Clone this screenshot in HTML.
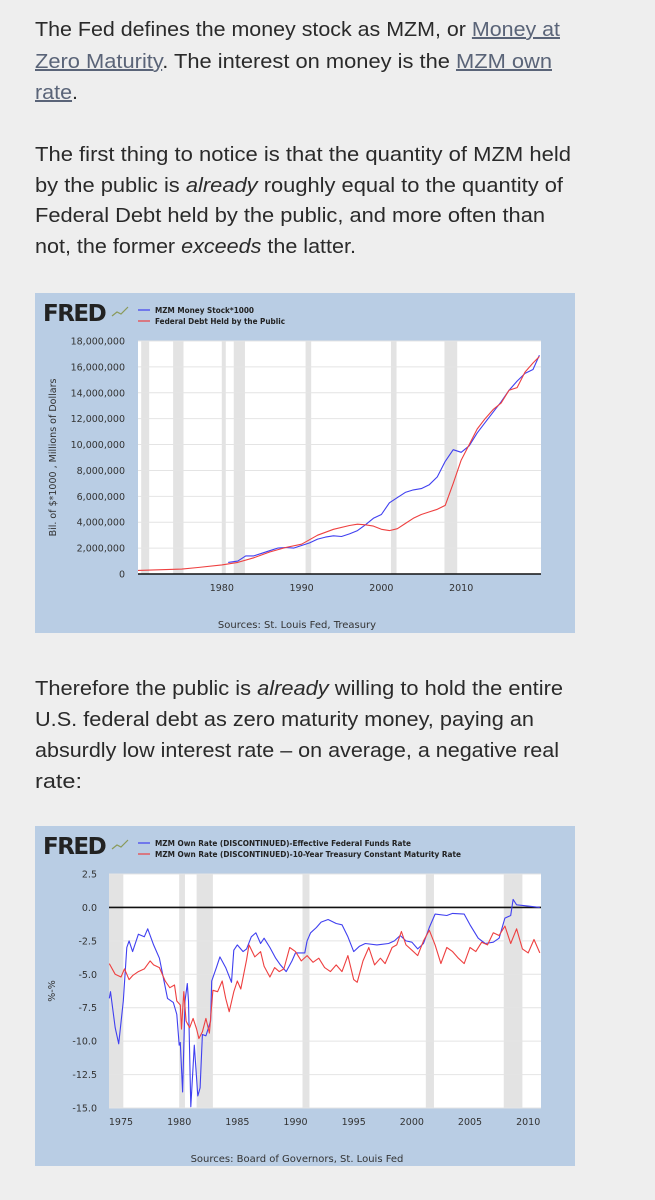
<!DOCTYPE html>
<html><head><meta charset="utf-8">
<style>
body{margin:0;width:655px;height:1200px;background:#eeeeee;overflow:hidden;position:relative;font-family:"Liberation Sans",sans-serif;}
.ln{position:absolute;left:35px;white-space:nowrap;font-size:20px;line-height:24px;color:#2a2a2a;transform-origin:0 50%;}
.ln a{color:#5a6478;text-decoration:underline;}
.panel{position:absolute;left:35px;width:540px;height:340px;background:#b9cde4;}
svg text{font-family:"DejaVu Sans","Liberation Sans",sans-serif;}
</style></head><body>
<div>
<div class="ln" data-w="525" style="top:18px">The Fed defines the money stock as MZM, or <a>Money at</a></div>
<div class="ln" data-w="517" style="top:50px"><a>Zero Maturity</a>. The interest on money is the <a>MZM own</a></div>
<div class="ln" data-w="43" style="top:81px"><a>rate</a>.</div>
</div>
<div>
<div class="ln" data-w="536" style="top:143px">The first thing to notice is that the quantity of MZM held</div>
<div class="ln" data-w="528" style="top:174px">by the public is <i>already</i> roughly equal to the quantity of</div>
<div class="ln" data-w="510" style="top:204px">Federal Debt held by the public, and more often than</div>
<div class="ln" data-w="321" style="top:235px">not, the former <i>exceeds</i> the latter.</div>
</div>
<div>
<div class="ln" data-w="528" style="top:677px">Therefore the public is <i>already</i> willing to hold the entire</div>
<div class="ln" data-w="499" style="top:708px">U.S. federal debt as zero maturity money, paying an</div>
<div class="ln" data-w="524" style="top:739px">absurdly low interest rate – on average, a negative real</div>
<div class="ln" data-w="47" style="top:770px">rate:</div>
</div>

<div class="panel" style="top:293px"><svg id="c1" width="540" height="340"></svg></div>
<div class="panel" style="top:826px"><svg id="c2" width="540" height="340"></svg></div>

<script>
// ---- Chart 1 data ----
const c1MzmYears=[1980.8,1982,1983,1984,1985,1986,1987,1988,1989,1990,1991,1992,1993,1994,1995,1996,1997,1998,1999,2000,2001,2002,2003,2004,2005,2006,2007,2008,2009,2010,2011,2012,2013,2014,2015,2016,2017,2018,2019,2019.8];
const c1MzmValues=[0.9,1.0,1.4,1.4,1.6,1.8,2.0,2.05,2.0,2.2,2.4,2.7,2.85,2.95,2.9,3.1,3.35,3.8,4.3,4.6,5.5,5.9,6.3,6.5,6.6,6.9,7.5,8.7,9.6,9.4,9.9,10.9,11.7,12.5,13.3,14.2,14.9,15.5,15.8,16.9];
const c1DebtYears=[1969.5,1975,1977,1980,1982,1984,1986,1988,1990,1992,1994,1996,1997,1998,1999,2000,2001,2002,2003,2004,2005,2006,2007,2008,2009,2010,2011,2012,2013,2014,2015,2016,2017,2018,2019,2019.8];
const c1DebtValues=[0.28,0.38,0.5,0.7,0.9,1.25,1.7,2.05,2.3,3.0,3.45,3.75,3.85,3.8,3.7,3.45,3.35,3.5,3.9,4.3,4.6,4.8,5.0,5.3,7.0,8.8,10.0,11.2,12.0,12.7,13.2,14.2,14.4,15.6,16.3,16.8];
const c1YTicks=[0,2,4,6,8,10,12,14,16,18];
const c1YLabels=["0","2,000,000","4,000,000","6,000,000","8,000,000","10,000,000","12,000,000","14,000,000","16,000,000","18,000,000"];
const c1XTicks=[1980,1990,2000,2010];
const c1Recessions=[[1969.9,1970.9],[1973.9,1975.2],[1980,1980.5],[1981.5,1982.9],[1990.5,1991.2],[2001.2,2001.9],[2007.9,2009.5]];
// ---- Chart 2 data ----
const c2BlueYears=[1974.0,1974.1,1974.5,1974.8,1975.2,1975.5,1975.7,1976,1976.5,1977,1977.3,1977.8,1978.3,1978.7,1979,1979.5,1979.8,1980,1980.1,1980.3,1980.5,1980.7,1980.8,1981.0,1981.3,1981.6,1981.8,1982.0,1982.3,1982.7,1982.8,1983.2,1983.5,1984,1984.5,1984.7,1985,1985.5,1985.8,1986.2,1986.6,1987,1987.3,1987.8,1988.3,1988.7,1989.2,1989.7,1990,1990.5,1990.8,1991,1991.3,1991.8,1992.2,1992.8,1993.5,1994,1994.5,1995,1995.5,1996,1997,1998,1998.5,1999,1999.5,2000,2000.5,2001,2001.5,2002,2003,2003.5,2004.5,2005,2005.7,2006.3,2007,2007.5,2008,2008.5,2008.7,2009,2010,2011];
const c2BlueValues=[-6.8,-6.3,-9,-10.2,-7,-3,-2.5,-3.3,-2,-2.2,-1.6,-2.8,-3.8,-5.5,-6.8,-7.1,-8,-10.3,-10.1,-13.8,-7,-5.7,-7,-14.9,-10.3,-14.1,-13.5,-9.5,-9.6,-8.5,-5.5,-4.5,-3.7,-4.5,-5.6,-3.2,-2.8,-3.3,-3.1,-2.2,-1.9,-2.7,-2.3,-3.0,-3.8,-4.3,-4.8,-4,-3.4,-3.4,-3.4,-2.5,-1.9,-1.5,-1.1,-0.9,-1.2,-1.3,-2.2,-3.3,-2.9,-2.7,-2.8,-2.7,-2.5,-2.1,-2.5,-2.6,-3.1,-2.7,-1.5,-0.5,-0.6,-0.45,-0.5,-1.3,-2.3,-2.7,-2.6,-2.3,-0.8,-0.6,0.6,0.2,0.1,0.0];
const c2RedYears=[1974,1974.5,1975,1975.3,1975.7,1976,1976.5,1977,1977.5,1977.8,1978.3,1978.8,1979.2,1979.6,1979.8,1980.1,1980.2,1980.4,1980.6,1980.9,1981.2,1981.5,1981.7,1982,1982.3,1982.6,1982.9,1983.3,1983.7,1984,1984.3,1984.7,1985,1985.3,1985.8,1986,1986.5,1987,1987.3,1987.8,1988.2,1988.6,1989,1989.5,1990,1990.5,1991,1991.5,1992,1992.5,1993,1993.5,1994,1994.5,1995,1995.3,1995.8,1996.3,1996.8,1997.3,1997.7,1998.3,1998.7,1999.1,1999.5,2000,2000.5,2001,2001.5,2002,2002.5,2003,2003.5,2004,2004.5,2005,2005.5,2006,2006.5,2007,2007.5,2008,2008.5,2009,2009.5,2010,2010.5,2011];
const c2RedValues=[-4.2,-5,-5.2,-4.6,-5.4,-5.1,-4.8,-4.6,-4.0,-4.3,-4.5,-5.5,-6.0,-5.8,-7.0,-7.3,-9.1,-6.3,-8.5,-9.0,-8.3,-9.1,-9.8,-9.3,-8.3,-9.4,-6.2,-6.3,-5.5,-6.8,-7.8,-6.3,-5.5,-6.1,-3.9,-2.8,-3.7,-3.3,-4.4,-5.2,-4.5,-4.8,-4.6,-3.0,-3.3,-4.0,-3.6,-4.1,-3.8,-4.5,-4.8,-4.3,-4.8,-3.6,-5.4,-5.6,-4.0,-3.0,-4.3,-3.8,-4.2,-3.0,-2.8,-1.8,-2.8,-3.2,-3.6,-2.5,-1.7,-2.8,-4.2,-3.0,-3.3,-3.8,-4.2,-3.0,-3.3,-2.6,-2.8,-1.9,-2.1,-1.4,-2.7,-1.6,-3.1,-3.4,-2.4,-3.4];
const c2YTicks=[2.5,0,-2.5,-5,-7.5,-10,-12.5,-15];
const c2YLabels=["2.5","0.0","-2.5","-5.0","-7.5","-10.0","-12.5","-15.0"];
const c2XTicks=[1975,1980,1985,1990,1995,2000,2005,2010];
const c2Recessions=[[1973.9,1975.2],[1980,1980.5],[1981.5,1982.9],[1990.6,1991.2],[2001.2,2001.9],[2007.9,2009.5]];

const NS="http://www.w3.org/2000/svg";
function mk(svg,tag,attrs,txt){const e=document.createElementNS(NS,tag);for(const k in attrs)e.setAttribute(k,attrs[k]);if(txt!==undefined)e.textContent=txt;svg.appendChild(e);return e;}

function drawChart(svg,o){
  const L=o.left,R=506,T=48,B=o.bottom;
  const xs=v=>L+(v-o.x0)/(o.x1-o.x0)*(R-L);
  const ys=v=>B-(v-o.y0)/(o.y1-o.y0)*(B-T);
  const logo=mk(svg,'text',{x:8,y:28,'font-size':23,'font-weight':'bold',fill:'#222','letter-spacing':'-1.5'},'FRED');
  
  
  mk(svg,'polyline',{points:'77,23 82,19 86,21 93,14',fill:'none',stroke:'#8a9a5a','stroke-width':1.2});
  o.legend.forEach((t,i)=>{
    const g=mk(svg,'g',{});
    
    
    mk(g,'line',{x1:103,x2:115,y1:17+i*11,y2:17+i*11,stroke:o.colors[i],'stroke-width':1.2});
    mk(g,'text',{x:120,y:20+i*11,'font-size':8.3,'font-weight':'bold',fill:'#222',textLength:o.legW[i],lengthAdjust:'spacingAndGlyphs'},t);
  });
  const plot=mk(svg,'rect',{x:L,y:T,width:R-L,height:B-T,fill:'#fff'});
  
  
  o.rec.forEach(r=>{
    const a=Math.max(xs(r[0]),L),b=Math.min(xs(r[1]),R);
    const rr=mk(svg,'rect',{x:a,y:T,width:b-a,height:B-T,fill:'#e3e3e3'});
    
    
  });
  o.yt.forEach((v,i)=>{
    mk(svg,'line',{x1:L,x2:R,y1:ys(v),y2:ys(v),stroke:'#e4e4e4','stroke-width':1});
    const t=mk(svg,'text',{x:o.labX,y:ys(v)+3.5,'font-size':9.5,fill:'#333','text-anchor':'end'},o.yl[i]);
    
    
  });
  o.xt.forEach(v=>{
    const t=mk(svg,'text',{x:xs(v),y:B+17,'font-size':9.5,fill:'#333','text-anchor':'middle'},String(v));
    
    
  });
  const ax=mk(svg,'line',{x1:L,x2:R,y1:ys(o.baseLine),y2:ys(o.baseLine),stroke:'#111','stroke-width':1.6});
  
  
  o.series.forEach((s,i)=>{
    const p=s[0].map((x,j)=>xs(x).toFixed(1)+','+ys(s[1][j]).toFixed(1)).join(' ');
    const pl=mk(svg,'polyline',{points:p,fill:'none',stroke:o.colors[i],'stroke-width':1.1,'stroke-linejoin':'round'});
    
    
  });
  const yt=mk(svg,'text',{x:0,y:0,'font-size':9.5,fill:'#333','text-anchor':'middle',transform:`translate(${o.ytX},${(T+B)/2}) rotate(-90)`},o.ytitle);
  
  
  const src=mk(svg,'text',{x:o.srcX,y:o.srcY,'font-size':10,fill:'#333','text-anchor':'middle'},o.src);
  
  
}
drawChart(document.getElementById('c1'),{left:103,bottom:281,x0:1969.5,x1:2020,y0:0,y1:18,yt:c1YTicks,yl:c1YLabels,xt:c1XTicks,rec:c1Recessions,baseLine:0,labX:90,
  series:[[c1MzmYears,c1MzmValues],[c1DebtYears,c1DebtValues]],colors:['#4040f0','#ee4040'],names:['mzm-line','federal-debt-line'],legW:[99,130],
  legend:['MZM Money Stock*1000','Federal Debt Held by the Public'],ytitle:'Bil. of $*1000 , Millions of Dollars',ytX:21,src:'Sources: St. Louis Fed, Treasury',srcX:262,srcY:335});
drawChart(document.getElementById('c2'),{left:74,bottom:282,x0:1973.97,x1:2011.1,y0:-15,y1:2.5,yt:c2YTicks,yl:c2YLabels,xt:c2XTicks,rec:c2Recessions,baseLine:0,labX:62,
  series:[[c2BlueYears,c2BlueValues],[c2RedYears,c2RedValues]],colors:['#4040f0','#ee4040'],names:['fed-funds-own-rate-line','treasury-10y-own-rate-line'],legW:[256,306],
  legend:['MZM Own Rate (DISCONTINUED)-Effective Federal Funds Rate','MZM Own Rate (DISCONTINUED)-10-Year Treasury Constant Maturity Rate'],ytitle:'%-%',ytX:20,src:'Sources: Board of Governors, St. Louis Fed',srcX:262,srcY:336});
document.querySelectorAll('.ln').forEach(el=>{const w=el.getBoundingClientRect().width;const t=+el.dataset.w;if(w>0)el.style.transform='scaleX('+(t/w)+')';});
</script>
</body></html>
